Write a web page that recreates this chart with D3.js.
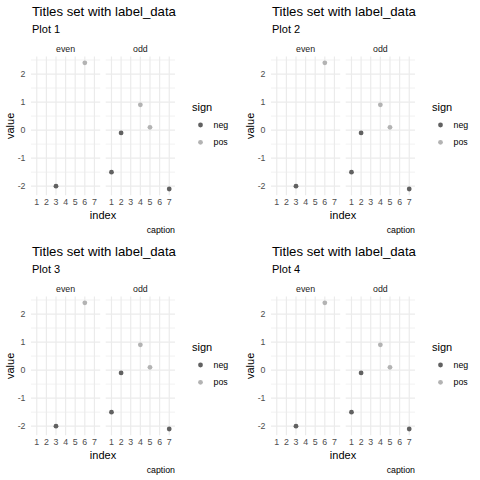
<!DOCTYPE html>
<html><head><meta charset="utf-8">
<script src="https://cdn.jsdelivr.net/npm/d3@7"></script>
<style>body{margin:0;background:#fff}svg{display:block}text{font-family:"Liberation Sans",Arial,sans-serif}</style>
</head><body>
<script>
const plots = ["Plot 1", "Plot 2", "Plot 3", "Plot 4"];
const titleText = "Titles set with label_data";
const captionText = "caption";
const facets = ["even", "odd"];
const indexTicks = [1, 2, 3, 4, 5, 6, 7];
const valueTicks = [-2, -1, 0, 1, 2];
const signs = ["neg", "pos"];
const signColors = ["#616161", "#b3b3b3"];
// points
const ptFacet = ["even", "even", "odd", "odd", "odd", "odd", "odd"];
const ptIndex = [3, 6, 1, 2, 4, 5, 7];
const ptValue = [-2.0, 2.4, -1.5, -0.1, 0.9, 0.1, -2.1];
const ptSign = ["neg", "pos", "neg", "neg", "pos", "pos", "neg"];

const W = 480, H = 480, cell = 240;
const svg = d3.select("body").append("svg").attr("width", W).attr("height", H);

const panelTop = 56.5, panelBottom = 195.3;
const panelX = {even: [31, 100.2], odd: [105.7, 175]};
const vmin = d3.min(ptValue), vmax = d3.max(ptValue), pad = (vmax - vmin) * 0.05;
const y = d3.scaleLinear().domain([vmin - pad, vmax + pad]).range([panelBottom, panelTop]);
const color = d3.scaleOrdinal().domain(signs).range(signColors);
const minor = d3.range(-2.5, 3, 1).filter(v => v >= vmin - pad && v <= vmax + pad);

plots.forEach((pname, i) => {
  const g = svg.append("g").attr("transform", `translate(${(i % 2) * cell},${Math.floor(i / 2) * cell})`);
  g.append("text").attr("x", 32).attr("y", 15.5).attr("font-size", 13.2).attr("fill", "#000").text(titleText);
  g.append("text").attr("x", 32).attr("y", 32.5).attr("font-size", 11).attr("fill", "#000").text(pname);

  facets.forEach(f => {
    const x = d3.scalePoint().domain(indexTicks).range(panelX[f]).padding(0.6);
    const pg = g.append("g");
    // minor y grid
    pg.selectAll(".ymin").data(minor).join("line")
      .attr("x1", panelX[f][0]).attr("x2", panelX[f][1])
      .attr("y1", d => y(d)).attr("y2", d => y(d))
      .attr("stroke", "#ebebeb").attr("stroke-width", 0.7);
    // major y grid
    pg.selectAll(".ymaj").data(valueTicks).join("line")
      .attr("x1", panelX[f][0]).attr("x2", panelX[f][1])
      .attr("y1", d => y(d)).attr("y2", d => y(d))
      .attr("stroke", "#ebebeb").attr("stroke-width", 1.2);
    // major x grid
    pg.selectAll(".xmaj").data(indexTicks).join("line")
      .attr("x1", d => x(d)).attr("x2", d => x(d))
      .attr("y1", panelTop).attr("y2", panelBottom)
      .attr("stroke", "#ebebeb").attr("stroke-width", 1.2);
    // strip
    pg.append("text").attr("x", (panelX[f][0] + panelX[f][1]) / 2).attr("y", 51.5)
      .attr("text-anchor", "middle").attr("font-size", 8.8).attr("fill", "#1a1a1a").text(f);
    // x tick labels
    pg.selectAll(".xl").data(indexTicks).join("text")
      .attr("x", d => x(d)).attr("y", 205.3).attr("text-anchor", "middle")
      .attr("font-size", 8.8).attr("fill", "#4d4d4d").text(d => d);
    // points
    const idx = d3.range(ptIndex.length).filter(k => ptFacet[k] === f);
    pg.selectAll("circle").data(idx).join("circle")
      .attr("cx", k => x(ptIndex[k])).attr("cy", k => y(ptValue[k])).attr("r", 2.4)
      .attr("fill", k => color(ptSign[k]));
  });
  // y tick labels
  g.selectAll(".yl").data(valueTicks).join("text")
    .attr("x", 25.5).attr("y", d => y(d) + 3.1).attr("text-anchor", "end")
    .attr("font-size", 8.8).attr("fill", "#4d4d4d").text(d => d);
  // axis titles
  g.append("text").attr("x", 103).attr("y", 219).attr("text-anchor", "middle").attr("font-size", 11).text("index");
  g.append("text").attr("transform", `translate(14,${(panelTop + panelBottom) / 2}) rotate(-90)`)
    .attr("text-anchor", "middle").attr("font-size", 11).text("value");
  // caption
  g.append("text").attr("x", 175).attr("y", 233).attr("text-anchor", "end").attr("font-size", 8.8).text(captionText);
  // legend
  g.append("text").attr("x", 192).attr("y", 111).attr("font-size", 11).text("sign");
  signs.forEach((s, j) => {
    g.append("circle").attr("cx", 200.5).attr("cy", 125 + j * 17.3).attr("r", 2.4).attr("fill", color(s));
    g.append("text").attr("x", 213.5).attr("y", 125 + j * 17.3 + 3.1).attr("font-size", 8.8).text(s);
  });
});
</script>
</body></html>
